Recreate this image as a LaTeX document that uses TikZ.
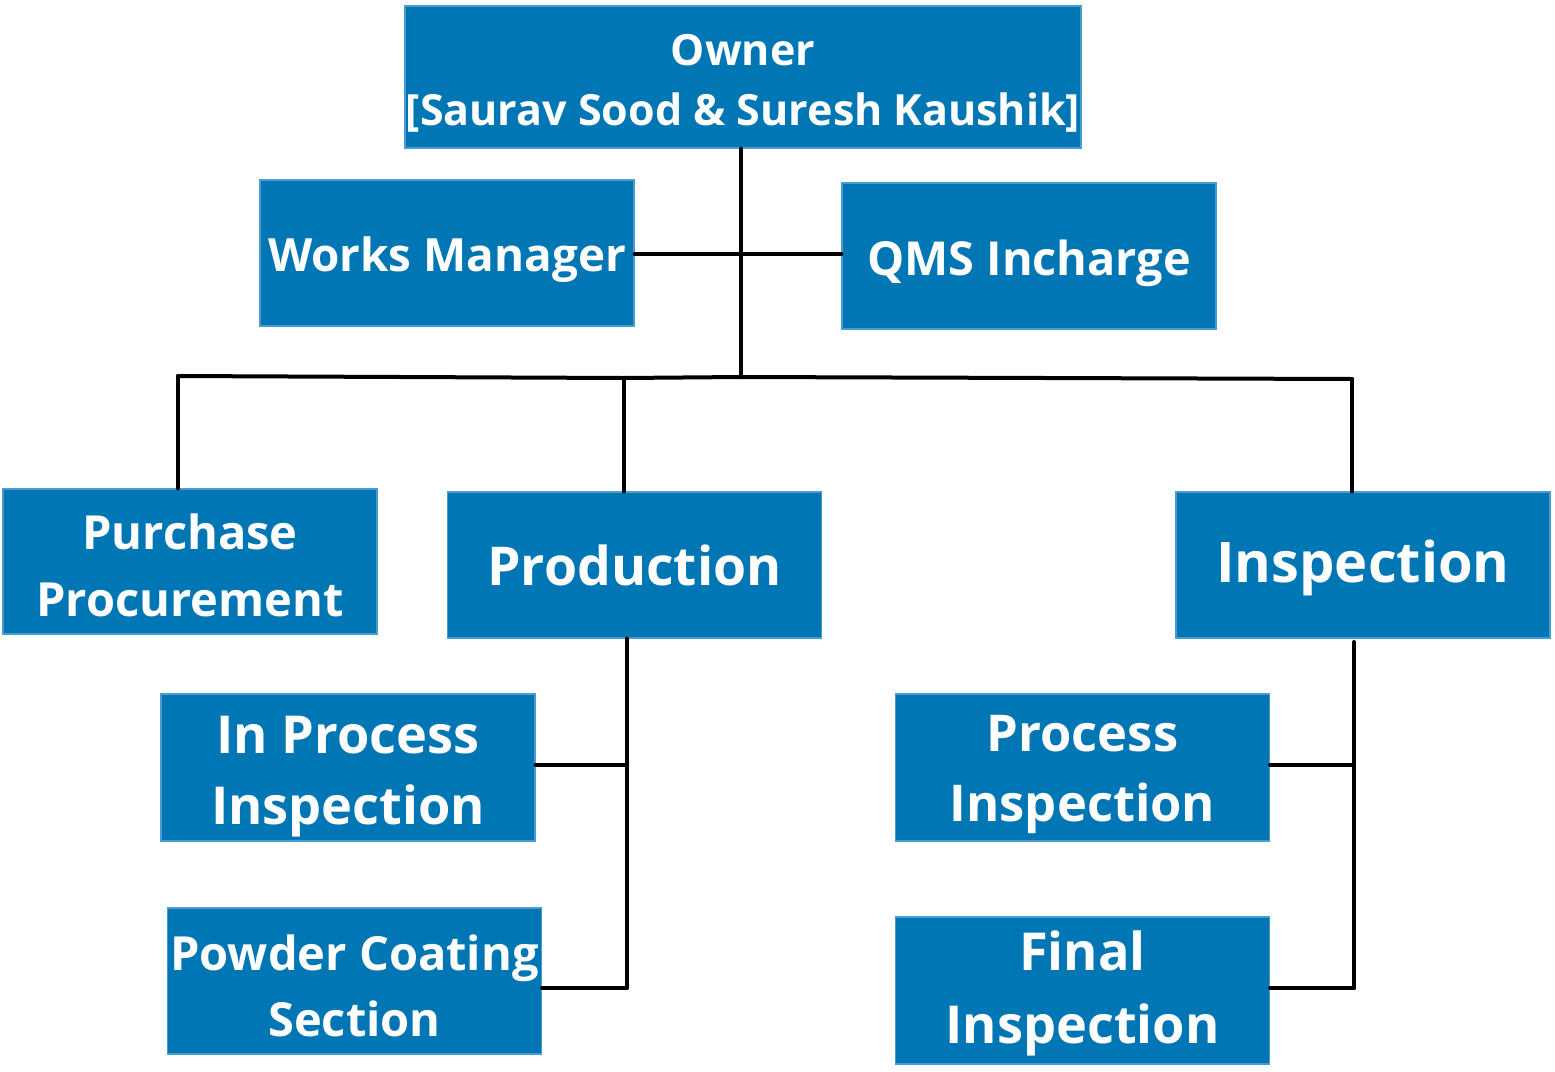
\documentclass[tikz,border=0pt]{standalone}
\usepackage{fontspec}
\setmainfont{Open Sans}
\begin{document}
\begin{tikzpicture}[x=1pt,y=-1pt,
  box/.style={draw=boxedge,line width=1.2pt,fill=boxblue,inner sep=0pt,
    minimum width=374pt,minimum height=146pt},
  lbl/.style={text=white,inner sep=0pt,align=center},
  conn/.style={line width=4pt,draw=black,line cap=round}]
\definecolor{boxblue}{HTML}{0076B4}
\definecolor{boxedge}{HTML}{4A9CD0}
\useasboundingbox (0,0) rectangle (1555,1071);
% boxes
\node[box,minimum width=676pt,minimum height=142pt] (own) at (743,77) {};
\node[box] (wm) at (447,253) {};
\node[box] (qms) at (1029,256) {};
\node[box,minimum height=145pt] (pur) at (190,561.5) {};
\node[box] (prod) at (634.5,565) {};
\node[box] (insp) at (1363,565) {};
\node[box,minimum height=147pt] (ipi) at (348,767.5) {};
\node[box] (pcs) at (354.5,981) {};
\node[box,minimum height=147pt] (pi) at (1082.5,767.5) {};
\node[box,minimum height=147pt] (fi) at (1082.5,990.5) {};
% texts
\node[lbl,font=\bfseries\fontsize{43}{60}\selectfont] (owntxt) at ([yshift=-6]own.center) {Owner\\{[}Saurav Sood \& Suresh Kaushik{]}};
\node[lbl,font=\bfseries\fontsize{45.8}{60}\selectfont] (wmtxt) at ([yshift=-7]wm.center) {Works Manager};
\node[lbl,font=\bfseries\fontsize{46.8}{60}\selectfont] (qmstxt) at ([yshift=-7]qms.center) {QMS Incharge};
\node[lbl,font=\bfseries\fontsize{47}{67}\selectfont] (purtxt) at ([yshift=-4]pur.center) {Purchase\\Procurement};
\node[lbl,font=\bfseries\fontsize{53.5}{64}\selectfont] (prodtxt) at (prod.center) {Production};
\node[lbl,font=\bfseries\fontsize{56}{64}\selectfont] (insptxt) at ([yshift=-2.5]insp.center) {Inspection};
\node[lbl,font=\bfseries\fontsize{52.3}{71}\selectfont] (ipitxt) at ([yshift=-9]ipi.center) {In Process\\Inspection};
\node[lbl,font=\bfseries\fontsize{47}{66}\selectfont] (pcstxt) at ([yshift=-5]pcs.center) {Powder Coating\\Section};
\node[lbl,font=\bfseries\fontsize{50.7}{70}\selectfont] (pitxt) at ([yshift=-7]pi.center) {Process\\Inspection};
\node[lbl,font=\bfseries\fontsize{52.3}{73}\selectfont] (fitxt) at ([yshift=-3]fi.center) {Final\\Inspection};
% junction coordinates
\coordinate (jtop) at (741,377);
\coordinate (jl) at (178,376);
\coordinate (jm) at (624,378);
\coordinate (jr) at (1352,379);
\coordinate (jwq) at (741,254);
\coordinate (pbus1) at (627,765);
\coordinate (pbus2) at (627,988);
\coordinate (ibus0) at (1354,642);
\coordinate (ibus1) at (1354,765);
\coordinate (ibus2) at (1354,988);
% connectors
\draw[conn] (own.south -| jtop) -- (jtop);
\draw[conn] (wm.east |- jwq) -- (qms.west |- jwq);
\draw[conn] (jl) -- (jm) -- (jtop) -- (jr);
\draw[conn] (jl) -- (jl |- pur.north);
\draw[conn] (jm) -- (jm |- prod.north);
\draw[conn] (jr) -- (jr |- insp.north);
\draw[conn] (prod.south -| pbus1) -- (pbus2);
\draw[conn] (ipi.east |- pbus1) -- (pbus1);
\draw[conn] (pcs.east |- pbus2) -- (pbus2);
\draw[conn] (ibus0) -- (ibus2);
\draw[conn] (pi.east |- ibus1) -- (ibus1);
\draw[conn] (fi.east |- ibus2) -- (ibus2);
\end{tikzpicture}
\end{document}
